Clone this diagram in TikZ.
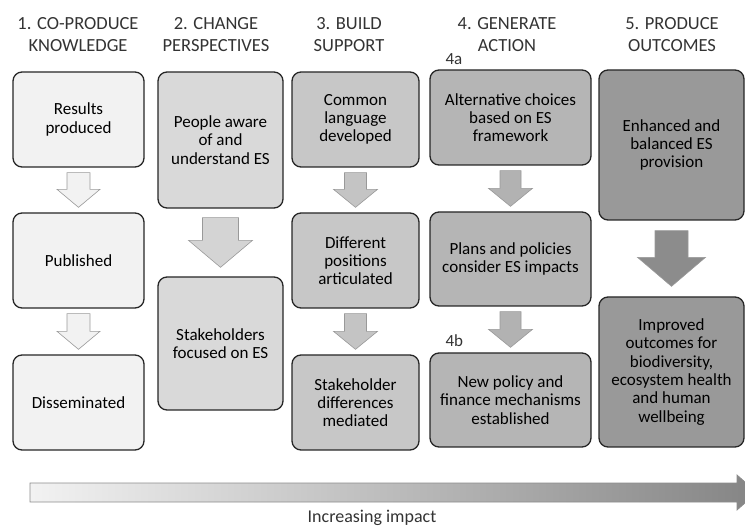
\documentclass[tikz,border=0pt]{standalone}
\usepackage{fontspec}
\setmainfont{Carlito}
\usetikzlibrary{calc,positioning}

\definecolor{stageA}{gray}{0.95}
\definecolor{stageB}{gray}{0.85}
\definecolor{stageC}{gray}{0.78}
\definecolor{stageD}{gray}{0.71}
\definecolor{stageE}{gray}{0.60}
\definecolor{flowA}{gray}{0.95}
\definecolor{flowB}{gray}{0.83}
\definecolor{flowC}{gray}{0.77}
\definecolor{flowD}{gray}{0.70}
\definecolor{flowE}{gray}{0.55}

\newcommand{\boxfont}{\fontsize{17}{18.3}\selectfont}
\newcommand{\headfont}{\fontsize{18.5}{22}\selectfont}

\tikzset{
  stage/.style={draw=black!85,line width=1.3pt,rounded corners=9pt,align=center,font=\boxfont,inner sep=2pt},
  head/.style={align=center,font=\headfont,text=black!80},
  flow/.style={draw=black!40,line width=0.6pt},
}

% [style]{from}{to}{stem half}{head half}{head length}{gap}
\newcommand{\blockarrow}[7][]{%
  \draw[flow,#1] let \p1=(#2.south), \p2=(#3.north) in
    (\x1-#4pt,\y1-#7pt) -- (\x1+#4pt,\y1-#7pt) -- (\x1+#4pt,\y2+#7pt+#6pt)
    -- (\x1+#5pt,\y2+#7pt+#6pt) -- (\x1,\y2+#7pt) -- (\x1-#5pt,\y2+#7pt+#6pt)
    -- (\x1-#4pt,\y2+#7pt+#6pt) -- cycle;}

\begin{document}
\begin{tikzpicture}[x=1pt,y=-1pt]
  \useasboundingbox (0,0) rectangle (745,529);

  \node[head] (h1) at (78,35)  {1. CO-PRODUCE\\KNOWLEDGE};
  \node[head] (h2) at (216,35) {2. CHANGE\\PERSPECTIVES};
  \node[head] (h3) at (349,35) {3. BUILD\\SUPPORT};
  \node[head] (h4) at (507,35) {4. GENERATE\\ACTION};
  \node[head] (h5) at (672,35) {5. PRODUCE\\OUTCOMES};

  \node[stage,fill=stageA,minimum width=131pt,minimum height=95pt] (k1) at (78.5,119.5) {Results\\produced};
  \node[stage,fill=stageA,minimum width=131pt,minimum height=95pt] (k2) at (78.5,260.5) {Published};
  \node[stage,fill=stageA,minimum width=131pt,minimum height=95pt] (k3) at (78.5,402.5) {Disseminated};

  \node[stage,fill=stageB,minimum width=125pt,minimum height=136pt] (p1) at (220.5,140) {People aware\\of and\\understand ES};
  \node[stage,fill=stageB,minimum width=125pt,minimum height=133pt] (p2) at (220.5,343.5) {Stakeholders\\focused on ES};

  \node[stage,fill=stageC,minimum width=127pt,minimum height=95pt] (s1) at (355.5,119.5) {Common\\language\\developed};
  \node[stage,fill=stageC,minimum width=127pt,minimum height=95pt] (s2) at (355.5,260.5) {Different\\positions\\articulated};
  \node[stage,fill=stageC,minimum width=127pt,minimum height=95pt] (s3) at (355.5,402.5) {Stakeholder\\differences\\mediated};

  \node[stage,fill=stageD,minimum width=161pt,minimum height=95pt] (a1) at (510.5,117.5) {Alternative choices\\based on ES\\framework};
  \node[stage,fill=stageD,minimum width=161pt,minimum height=94pt] (a2) at (510.5,259) {Plans and policies\\consider ES impacts};
  \node[stage,fill=stageD,minimum width=161pt,minimum height=94pt] (a3) at (510.5,400) {New policy and\\finance mechanisms\\established};
  \node[font=\boxfont,text=black!80,anchor=base west,inner sep=0pt] (l4a) at ([xshift=16pt,yshift=5pt]a1.north west) {4a};
  \node[font=\boxfont,text=black!80,anchor=base west,inner sep=0pt] (l4b) at ([xshift=16pt,yshift=6pt]a3.north west) {4b};

  \node[stage,fill=stageE,minimum width=145pt,minimum height=150pt] (o1) at (671.5,145) {Enhanced and\\balanced ES\\provision};
  \node[stage,fill=stageE,minimum width=145pt,minimum height=150pt] (o2) at (671.5,372) {Improved\\outcomes for\\biodiversity,\\ecosystem health\\and human\\wellbeing};

  \blockarrow[fill=flowA]{k1}{k2}{11.5}{21.5}{18}{5}
  \blockarrow[fill=flowA]{k2}{k3}{11.5}{21.5}{18}{5}
  \blockarrow[fill=flowB]{p1}{p2}{18}{32}{27}{9}
  \blockarrow[fill=flowC]{s1}{s2}{11}{22}{18}{5}
  \blockarrow[fill=flowC]{s2}{s3}{11}{22}{18}{5}
  \blockarrow[fill=flowD]{a1}{a2}{10.5}{22}{18}{5}
  \blockarrow[fill=flowD]{a2}{a3}{10.5}{22}{18}{5}
  \blockarrow[fill=flowE]{o1}{o2}{16.5}{34}{29}{10}

  % impact arrow
  \draw[draw=black!45,line width=0.7pt,left color=black!5,right color=black!48]
    (30,483) -- (737,483) -- (737,475) -- (757,492.5) -- (737,510) -- (737,502) -- (30,502) -- cycle;
  \node[font=\fontsize{18}{20}\selectfont,text=black!80] (imp) at (372,518) {Increasing impact};
\end{tikzpicture}
\end{document}
